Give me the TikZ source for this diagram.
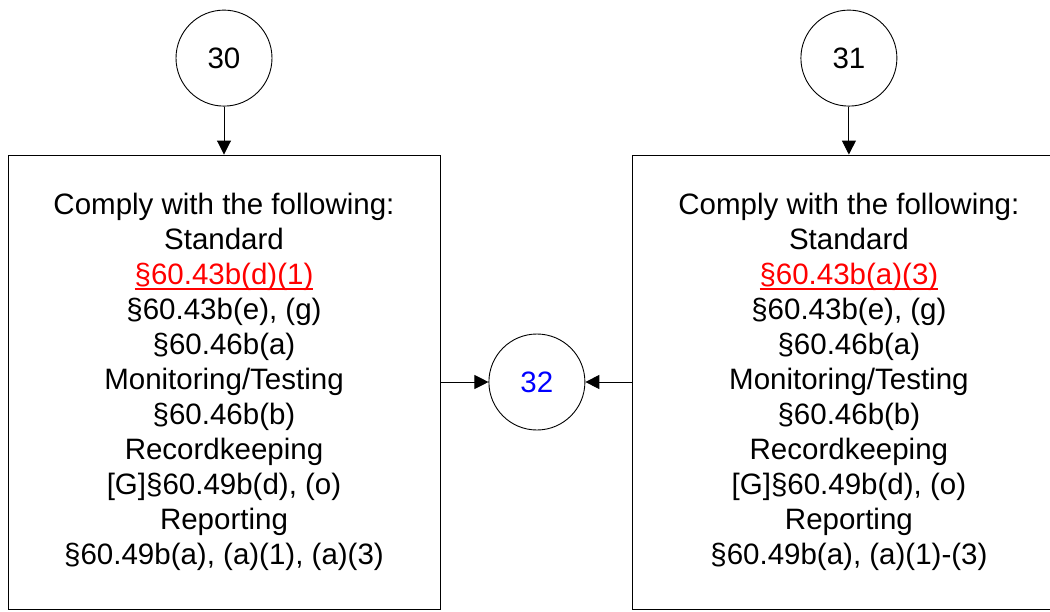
\documentclass[tikz,border=0pt]{standalone}
\usepackage{fontspec}
\setmainfont{Liberation Sans}
\usepackage{tikz}
\usetikzlibrary{arrows.meta,positioning}
\definecolor{myred}{RGB}{255,0,0}
\definecolor{myblue}{RGB}{0,0,255}
\newcommand{\redlink}[1]{\textcolor{myred}{\setbox0\hbox{#1}\rlap{\rule[-5pt]{\wd0}{1.8pt}}\box0}}
\tikzstyle{conn}=[draw,circle,minimum size=96pt,inner sep=0pt,font=\fontsize{29.5}{35}\selectfont]
\tikzstyle{stepbox}=[draw,rectangle,minimum width=432pt,minimum height=454pt,align=center,font=\fontsize{29.5}{35}\selectfont]
\tikzstyle{flow}=[-{Triangle[length=14pt,width=14pt]}]

\begin{document}
\begin{tikzpicture}[x=1pt,y=-1pt,line width=0.9pt]
\clip (0,0) rectangle (1050,611);
\node [stepbox] (b30) at (224,382) {Comply with the following:\\Standard\\\redlink{§60.43b(d)(1)}\\§60.43b(e), (g)\\§60.46b(a)\\Monitoring/Testing\\§60.46b(b)\\Recordkeeping\\{[G]}§60.49b(d), (o)\\Reporting\\§60.49b(a), (a)(1), (a)(3)};
\node [conn, above=48pt of b30] (c30) {30};

\node [stepbox, right=192pt of b30] (b31) {Comply with the following:\\Standard\\\redlink{§60.43b(a)(3)}\\§60.43b(e), (g)\\§60.46b(a)\\Monitoring/Testing\\§60.46b(b)\\Recordkeeping\\{[G]}§60.49b(d), (o)\\Reporting\\§60.49b(a), (a)(1)-(3)};
\node [conn, above=48pt of b31] (c31) {31};

\node [conn, right=48pt of b30, text=myblue] (c32) {32};

\draw [flow] (c30) -- (b30);
\draw [flow] (c31) -- (b31);
\draw [flow] (b30) -- (c32);
\draw [flow] (b31) -- (c32);
\end{tikzpicture}
\end{document}
